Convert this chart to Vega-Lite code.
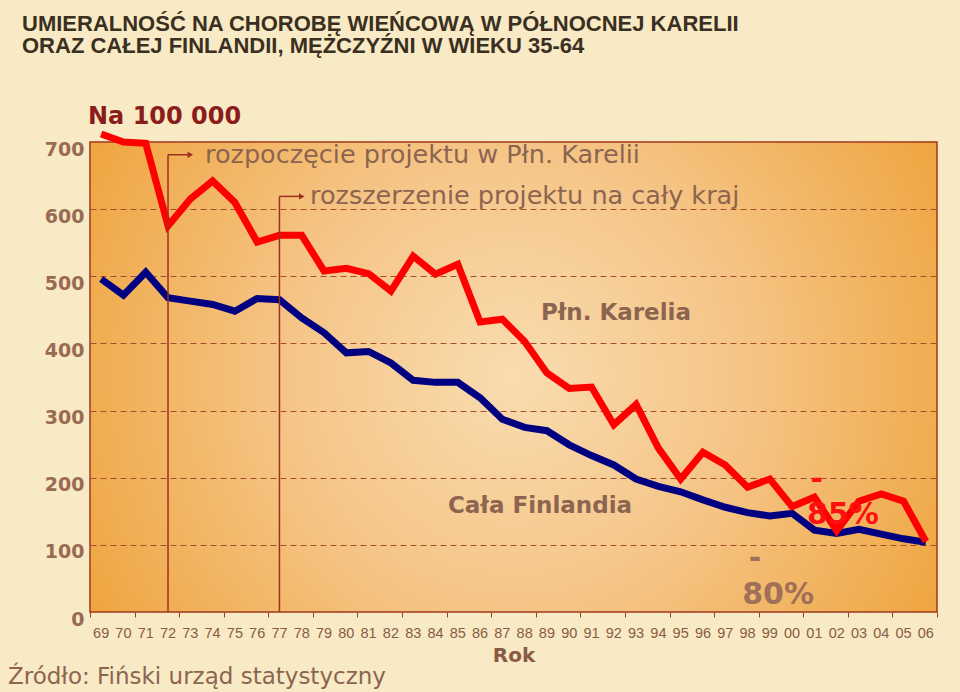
{
  "$schema": "https://vega.github.io/schema/vega-lite/v6.json",
  "autosize": {"type": "none"},
  "width": 847,
  "height": 470,
  "padding": {"left": 90, "top": 142, "right": 23, "bottom": 80},
  "background": "#f7eac4",
  "view": {
    "stroke": "#a0381c",
    "strokeWidth": 1.5,
    "fill": {
      "gradient": "radial",
      "x1": 0.5, "y1": 0.5, "r1": 0,
      "x2": 0.5, "y2": 0.5, "r2": 0.62,
      "stops": [
        {"offset": 0, "color": "#f9dcb0"},
        {"offset": 0.45, "color": "#f5c485"},
        {"offset": 1, "color": "#eea034"}
      ]
    }
  },
  "title": {
    "text": ["UMIERALNOŚĆ NA CHOROBĘ WIEŃCOWĄ W PÓŁNOCNEJ KARELII", "ORAZ CAŁEJ FINLANDII,  MĘŻCZYŹNI W WIEKU 35-64"],
    "anchor": "start",
    "frame": "group",
    "dx": -68,
    "offset": 47,
    "font": "Liberation Sans",
    "fontSize": 22,
    "fontWeight": "bold",
    "color": "#3b2f22",
    "lineHeight": 22
  },
  "datasets": {
    "karelia": [
      {"year": 1969, "value": 712}, {"year": 1970, "value": 700}, {"year": 1971, "value": 698},
      {"year": 1972, "value": 575}, {"year": 1973, "value": 615}, {"year": 1974, "value": 642},
      {"year": 1975, "value": 610}, {"year": 1976, "value": 551}, {"year": 1977, "value": 561},
      {"year": 1978, "value": 561}, {"year": 1979, "value": 508}, {"year": 1980, "value": 512},
      {"year": 1981, "value": 504}, {"year": 1982, "value": 478}, {"year": 1983, "value": 530},
      {"year": 1984, "value": 503}, {"year": 1985, "value": 518}, {"year": 1986, "value": 432},
      {"year": 1987, "value": 436}, {"year": 1988, "value": 403}, {"year": 1989, "value": 356},
      {"year": 1990, "value": 333}, {"year": 1991, "value": 335}, {"year": 1992, "value": 279},
      {"year": 1993, "value": 309}, {"year": 1994, "value": 244}, {"year": 1995, "value": 198},
      {"year": 1996, "value": 238}, {"year": 1997, "value": 219}, {"year": 1998, "value": 186},
      {"year": 1999, "value": 198}, {"year": 2000, "value": 157}, {"year": 2001, "value": 171},
      {"year": 2002, "value": 121}, {"year": 2003, "value": 165}, {"year": 2004, "value": 176},
      {"year": 2005, "value": 165}, {"year": 2006, "value": 105}
    ],
    "finland": [
      {"year": 1969, "value": 496}, {"year": 1970, "value": 472}, {"year": 1971, "value": 506},
      {"year": 1972, "value": 468}, {"year": 1973, "value": 463}, {"year": 1974, "value": 458},
      {"year": 1975, "value": 448}, {"year": 1976, "value": 467}, {"year": 1977, "value": 465},
      {"year": 1978, "value": 438}, {"year": 1979, "value": 416}, {"year": 1980, "value": 386},
      {"year": 1981, "value": 388}, {"year": 1982, "value": 371}, {"year": 1983, "value": 345},
      {"year": 1984, "value": 342}, {"year": 1985, "value": 342}, {"year": 1986, "value": 319},
      {"year": 1987, "value": 287}, {"year": 1988, "value": 275}, {"year": 1989, "value": 270},
      {"year": 1990, "value": 249}, {"year": 1991, "value": 233}, {"year": 1992, "value": 219},
      {"year": 1993, "value": 198}, {"year": 1994, "value": 187}, {"year": 1995, "value": 179},
      {"year": 1996, "value": 167}, {"year": 1997, "value": 156}, {"year": 1998, "value": 148},
      {"year": 1999, "value": 143}, {"year": 2000, "value": 147}, {"year": 2001, "value": 122},
      {"year": 2002, "value": 117}, {"year": 2003, "value": 123}, {"year": 2004, "value": 116},
      {"year": 2005, "value": 109}, {"year": 2006, "value": 104}
    ],
    "years": [
      {"year": 1969, "label": "69"}, {"year": 1970, "label": "70"}, {"year": 1971, "label": "71"},
      {"year": 1972, "label": "72"}, {"year": 1973, "label": "73"}, {"year": 1974, "label": "74"},
      {"year": 1975, "label": "75"}, {"year": 1976, "label": "76"}, {"year": 1977, "label": "77"},
      {"year": 1978, "label": "78"}, {"year": 1979, "label": "79"}, {"year": 1980, "label": "80"},
      {"year": 1981, "label": "81"}, {"year": 1982, "label": "82"}, {"year": 1983, "label": "83"},
      {"year": 1984, "label": "84"}, {"year": 1985, "label": "85"}, {"year": 1986, "label": "86"},
      {"year": 1987, "label": "87"}, {"year": 1988, "label": "88"}, {"year": 1989, "label": "89"},
      {"year": 1990, "label": "90"}, {"year": 1991, "label": "91"}, {"year": 1992, "label": "92"},
      {"year": 1993, "label": "93"}, {"year": 1994, "label": "94"}, {"year": 1995, "label": "95"},
      {"year": 1996, "label": "96"}, {"year": 1997, "label": "97"}, {"year": 1998, "label": "98"},
      {"year": 1999, "label": "99"}, {"year": 2000, "label": "00"}, {"year": 2001, "label": "01"},
      {"year": 2002, "label": "02"}, {"year": 2003, "label": "03"}, {"year": 2004, "label": "04"},
      {"year": 2005, "label": "05"}, {"year": 2006, "label": "06"}
    ],
    "segments": [
      {"x": 1972, "y": 0, "x2": 1972, "y2": 681},
      {"x": 1972, "y": 681, "x2": 1973, "y2": 681},
      {"x": 1977, "y": 0, "x2": 1977, "y2": 619},
      {"x": 1977, "y": 619, "x2": 1978, "y2": 619}
    ],
    "heads": [
      {"x": 1973, "y": 681},
      {"x": 1978, "y": 619}
    ],
    "notes": [
      {"x": 1973.66, "y": 681, "label": "rozpoczęcie projektu w Płn. Karelii"},
      {"x": 1978.37, "y": 619, "label": "rozszerzenie projektu na cały kraj"}
    ],
    "seriesLabels": [
      {"x": 1988.73, "y": 445, "label": "Płn. Karelia"},
      {"x": 1984.56, "y": 158, "label": "Cała Finlandia"}
    ],
    "unit": [{"x": 1968.41, "y": 737, "label": "Na 100 000"}],
    "source": [{"x": 1964.82, "y": -97, "label": "Źródło: Fiński urząd statystyczny"}],
    "pctRed": [
      {"x": 2001.1, "y": 197, "label": "-"},
      {"x": 2002.28, "y": 145, "label": "85%"}
    ],
    "pctBrown": [
      {"x": 1998.33, "y": 79, "label": "-"},
      {"x": 1999.37, "y": 25, "label": "80%"}
    ]
  },
  "layer": [
    {
      "data": {"name": "finland"},
      "mark": {"type": "line", "color": "#000080", "strokeWidth": 7, "strokeJoin": "miter", "clip": false},
      "encoding": {
        "x": {
          "field": "year", "type": "quantitative",
          "scale": {"domain": [1968.5, 2006.5], "nice": false, "zero": false},
          "axis": {
            "values": [1968.5, 1969.5, 1970.5, 1971.5, 1972.5, 1973.5, 1974.5, 1975.5, 1976.5, 1977.5, 1978.5, 1979.5, 1980.5, 1981.5, 1982.5, 1983.5, 1984.5, 1985.5, 1986.5, 1987.5, 1988.5, 1989.5, 1990.5, 1991.5, 1992.5, 1993.5, 1994.5, 1995.5, 1996.5, 1997.5, 1998.5, 1999.5, 2000.5, 2001.5, 2002.5, 2003.5, 2004.5, 2005.5, 2006.5],
            "labels": false,
            "domain": false,
            "ticks": true,
            "tickColor": "#a0381c",
            "tickSize": 5,
            "tickWidth": 1,
            "grid": false,
            "title": "Rok",
            "titleFont": "DejaVu Sans",
            "titleFontSize": 20,
            "titleFontWeight": "bold",
            "titleColor": "#8b5a44",
            "titlePadding": 28
          }
        },
        "y": {
          "field": "value", "type": "quantitative",
          "scale": {"domain": [0, 700], "nice": false},
          "axis": {
            "values": [0, 100, 200, 300, 400, 500, 600, 700],
            "labelFont": "DejaVu Sans",
            "labelFontSize": 19,
            "labelFontWeight": "bold",
            "labelColor": "#9a6a52",
            "labelPadding": 6,
            "labelOffset": 7,
            "ticks": false,
            "domain": false,
            "grid": true,
            "gridColor": "#a3502a",
            "gridDash": [6, 4],
            "gridWidth": 1,
            "gridOpacity": {"condition": {"test": "datum.value == 0 || datum.value == 700", "value": 0}, "value": 1},
            "title": null
          }
        }
      }
    },
    {
      "data": {"name": "karelia"},
      "mark": {"type": "line", "color": "#ff0000", "strokeWidth": 7, "strokeJoin": "miter", "clip": false},
      "encoding": {
        "x": {"field": "year", "type": "quantitative"},
        "y": {"field": "value", "type": "quantitative"}
      }
    },
    {
      "data": {"name": "years"},
      "mark": {"type": "text", "align": "center", "baseline": "middle", "font": "Liberation Sans", "fontSize": 14.5, "color": "#8b5a44"},
      "encoding": {
        "x": {"field": "year", "type": "quantitative"},
        "y": {"datum": -33},
        "text": {"field": "label"}
      }
    },
    {
      "data": {"name": "segments"},
      "mark": {"type": "rule", "color": "#a0301e", "strokeWidth": 1.5},
      "encoding": {
        "x": {"field": "x", "type": "quantitative"},
        "x2": {"field": "x2"},
        "y": {"field": "y", "type": "quantitative"},
        "y2": {"field": "y2"}
      }
    },
    {
      "data": {"name": "heads"},
      "mark": {"type": "point", "shape": "triangle-right", "filled": true, "color": "#a0301e", "size": 40, "opacity": 1},
      "encoding": {
        "x": {"field": "x", "type": "quantitative"},
        "y": {"field": "y", "type": "quantitative"}
      }
    },
    {
      "data": {"name": "notes"},
      "mark": {"type": "text", "align": "left", "baseline": "middle", "font": "DejaVu Sans", "fontSize": 25.5, "color": "#8c6450"},
      "encoding": {
        "x": {"field": "x", "type": "quantitative"},
        "y": {"field": "y", "type": "quantitative"},
        "text": {"field": "label"}
      }
    },
    {
      "data": {"name": "seriesLabels"},
      "mark": {"type": "text", "align": "left", "baseline": "middle", "font": "DejaVu Sans", "fontSize": 23, "fontWeight": "bold", "color": "#8c6450"},
      "encoding": {
        "x": {"field": "x", "type": "quantitative"},
        "y": {"field": "y", "type": "quantitative"},
        "text": {"field": "label"}
      }
    },
    {
      "data": {"name": "unit"},
      "mark": {"type": "text", "align": "left", "baseline": "middle", "font": "DejaVu Sans", "fontSize": 24, "fontWeight": "bold", "color": "#8b1c1c"},
      "encoding": {
        "x": {"field": "x", "type": "quantitative"},
        "y": {"field": "y", "type": "quantitative"},
        "text": {"field": "label"}
      }
    },
    {
      "data": {"name": "source"},
      "mark": {"type": "text", "align": "left", "baseline": "middle", "font": "DejaVu Sans", "fontSize": 23, "color": "#8c6450"},
      "encoding": {
        "x": {"field": "x", "type": "quantitative"},
        "y": {"field": "y", "type": "quantitative"},
        "text": {"field": "label"}
      }
    },
    {
      "data": {"name": "pctRed"},
      "mark": {"type": "text", "align": "center", "baseline": "middle", "font": "DejaVu Sans", "fontSize": 30, "fontWeight": "bold", "color": "#ff1010"},
      "encoding": {
        "x": {"field": "x", "type": "quantitative"},
        "y": {"field": "y", "type": "quantitative"},
        "text": {"field": "label"}
      }
    },
    {
      "data": {"name": "pctBrown"},
      "mark": {"type": "text", "align": "center", "baseline": "middle", "font": "DejaVu Sans", "fontSize": 30, "fontWeight": "bold", "color": "#a0705a"},
      "encoding": {
        "x": {"field": "x", "type": "quantitative"},
        "y": {"field": "y", "type": "quantitative"},
        "text": {"field": "label"}
      }
    }
  ]
}
